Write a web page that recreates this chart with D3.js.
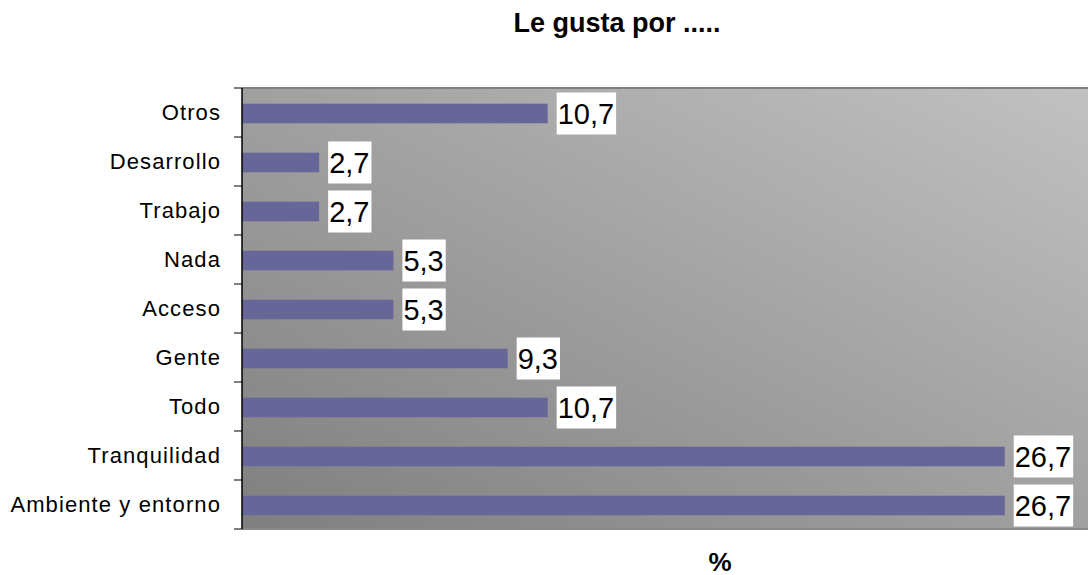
<!DOCTYPE html>
<html>
<head>
<meta charset="utf-8">
<script src="https://cdn.jsdelivr.net/npm/d3@7"></script>
<style>
	body { margin: 0; background: #fff; }
	svg { display: block; font-family: "Liberation Sans", Arial, sans-serif; }
</style>
</head>
<body>
<div id="content"></div>
<script>
// Categories from top to bottom, values in %
var categories = ["Otros", "Desarrollo", "Trabajo", "Nada", "Acceso", "Gente", "Todo", "Tranquilidad", "Ambiente y entorno"];
var values = [10.7, 2.7, 2.7, 5.3, 5.3, 9.3, 10.7, 26.7, 26.7];
var valueLabels = ["10,7", "2,7", "2,7", "5,3", "5,3", "9,3", "10,7", "26,7", "26,7"];

function main() {
	var width = 1088, height = 575;
	var plot = { left: 242, top: 88, right: 1099, bottom: 529 };

	var svg = d3.select("#content")
		.append("svg")
		.attr("width", width)
		.attr("height", height);

	// background gradient, dark bottom-left to light top-right
	var defs = svg.append("defs");
	var grad = defs.append("linearGradient")
		.attr("id", "bg")
		.attr("x1", "0%").attr("y1", "100%")
		.attr("x2", "100%").attr("y2", "0%");
	grad.append("stop").attr("offset", "0%").attr("stop-color", "#7f7f7f");
	grad.append("stop").attr("offset", "100%").attr("stop-color", "#c2c2c2");

	var x = d3.scaleLinear()
		.domain([0, 30])
		.range([plot.left, plot.right]);

	var y = d3.scaleBand()
		.domain(categories)
		.range([plot.top, plot.bottom])
		.paddingInner(0.6)
		.paddingOuter(0.3);

	svg.append("rect")
		.attr("x", plot.left)
		.attr("y", plot.top)
		.attr("width", plot.right - plot.left)
		.attr("height", plot.bottom - plot.top)
		.attr("fill", "url(#bg)");

	// top & bottom border
	svg.append("line")
		.attr("x1", plot.left).attr("x2", width)
		.attr("y1", plot.top).attr("y2", plot.top)
		.attr("stroke", "#808080").attr("stroke-width", 2);
	svg.append("line")
		.attr("x1", plot.left).attr("x2", width)
		.attr("y1", plot.bottom).attr("y2", plot.bottom)
		.attr("stroke", "#8a8a8a").attr("stroke-width", 2);

	// bars
	svg.append("g")
		.selectAll("rect")
		.data(categories)
		.enter()
		.append("rect")
		.attr("x", x(0))
		.attr("y", function (d) { return y(d) + 1; })
		.attr("width", function (d, i) { return x(values[i]) - x(0); })
		.attr("height", y.bandwidth())
		.attr("fill", "#666699");

	// value labels in white boxes
	var labels = svg.append("g")
		.selectAll("g")
		.data(categories)
		.enter()
		.append("g")
		.attr("transform", function (d, i) {
			return "translate(" + (x(values[i]) + 9) + "," + (y(d) + 1 + y.bandwidth() / 2) + ")";
		});
	labels.append("text")
		.attr("x", 1)
		.attr("y", 10)
		.attr("font-size", 29)
		.attr("fill", "#000")
		.text(function (d, i) { return valueLabels[i]; })
		.each(function () {
			var bb = this.getBBox();
			d3.select(this.parentNode).insert("rect", "text")
				.attr("x", 0)
				.attr("y", -21)
				.attr("width", bb.width + 3)
				.attr("height", 42)
				.attr("fill", "#fff");
		});

	// y axis
	var yAxis = d3.axisLeft(y).tickSize(0).tickPadding(21);
	var gy = svg.append("g")
		.attr("transform", "translate(" + plot.left + ",0)")
		.call(yAxis);
	gy.select(".domain").remove();
	gy.selectAll("text")
		.attr("font-size", 22)
		.attr("letter-spacing", 1.1)
		.attr("dy", "0.36em")
		.attr("fill", "#000")
		.attr("font-family", "'Liberation Sans', Arial, sans-serif");

	// band boundary ticks
	var step = (plot.bottom - plot.top) / categories.length;
	var tickYs = d3.range(categories.length + 1).map(function (i) { return plot.top + i * step; });
	svg.append("g")
		.selectAll("line")
		.data(tickYs)
		.enter()
		.append("line")
		.attr("x1", plot.left - 8).attr("x2", plot.left)
		.attr("y1", function (d) { return d; })
		.attr("y2", function (d) { return d; })
		.attr("stroke", "#000").attr("stroke-width", 1);
	svg.append("line")
		.attr("x1", plot.left).attr("x2", plot.left)
		.attr("y1", plot.top).attr("y2", plot.bottom)
		.attr("stroke", "#000").attr("stroke-width", 1.5);

	// title and axis title
	svg.append("text")
		.attr("x", 617).attr("y", 32)
		.attr("text-anchor", "middle")
		.attr("font-size", 27)
		.attr("font-weight", "bold")
		.text("Le gusta por .....");
	svg.append("text")
		.attr("x", 720).attr("y", 571)
		.attr("text-anchor", "middle")
		.attr("font-size", 26)
		.attr("font-weight", "bold")
		.text("%");
}

main();
</script>
</body>
</html>
